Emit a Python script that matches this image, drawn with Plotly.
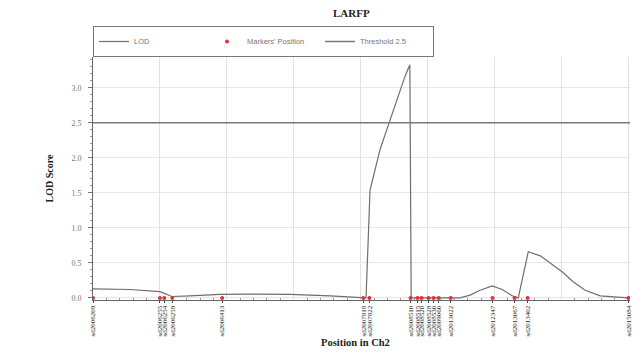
import plotly.graph_objects as go

# LOD curve (position in cM, LOD score)
lod_pos = [0, 11.06, 20.0, 23.6, 29.0, 38.0, 46.9, 58.9, 70.9, 80.7, 81.6,
           82.8, 84.3, 85.8, 88.5, 90.3, 91.8, 93.3, 94.7, 95.1,
           109.7, 112.7, 115.7, 119.3, 122.3, 125.3, 127.1,
           130.1, 133.7, 136.7, 140.3, 143.5, 147.1, 151.6, 160.0]
lod_val = [0.13, 0.12, 0.09, 0.02, 0.03, 0.05, 0.055, 0.05, 0.03, 0.01, 0.0,
           1.54, 1.85, 2.12, 2.5, 2.75, 2.97, 3.17, 3.33, 0.0,
           0.0, 0.04, 0.11, 0.17, 0.12, 0.03, 0.0,
           0.66, 0.60, 0.50, 0.37, 0.23, 0.11, 0.03, 0.0]

# marker positions and names
marker_pos = [0, 20.0, 21.3, 23.7, 38.6, 80.8, 82.6, 94.9, 97.0, 98.2,
              100.3, 101.8, 103.3, 106.9, 119.4, 126.0, 129.9, 160.0]
marker_names = ["sd2006209", "sd2006255", "sd2006254", "sd2006259", "sd2006413",
                "sd2007818", "sd2007822", "sd2008510", "sd2008515", "sd2008520",
                "sd2008528", "sd2008530", "sd2009060", "sd2013022", "sd2012347",
                "sd2013067", "sd2013402", "sd2015084"]
marker_lod = [0.0] * len(marker_pos)

threshold = 2.5
y_ticks = [0.0, 0.5, 1.0, 1.5, 2.0, 2.5, 3.0]

fig = go.Figure()
fig.add_trace(go.Scatter(x=lod_pos, y=lod_val, mode="lines", name="LOD",
                         line=dict(color="#6e6e6e", width=1.2)))
fig.add_trace(go.Scatter(x=marker_pos, y=marker_lod, mode="markers",
                         name="Markers' Position",
                         marker=dict(color="#e0303a", size=4)))
fig.add_trace(go.Scatter(x=[0, 160.5], y=[threshold, threshold], mode="lines",
                         name="Threshold 2.5",
                         line=dict(color="#7a7a7a", width=1.5)))
# invisible trace for overlay axis
fig.add_trace(go.Scatter(x=[0], y=[0], xaxis="x2", mode="markers",
                         marker=dict(opacity=0), showlegend=False, hoverinfo="skip"))

fig.update_layout(
    width=643, height=359,
    margin=dict(l=85, r=21, t=49, b=67, autoexpand=False),
    paper_bgcolor="white", plot_bgcolor="white",
    title=dict(text="<b>LARFP</b>", x=0.534, xanchor="center", y=0.997, yanchor="top",
               font=dict(family="Liberation Serif", size=11, color="#222")),
    showlegend=True,
    legend=dict(orientation="h", x=0.0, xanchor="left", y=1.0, yanchor="bottom",
                bordercolor="#777", borderwidth=1, bgcolor="white",
                font=dict(family="Liberation Sans", size=7.5, color="#777"),
                entrywidth=68, entrywidthmode="pixels",
                itemwidth=30, tracegroupgap=0),
    xaxis=dict(range=[0, 160.5], tickmode="array", tickvals=marker_pos,
               ticktext=marker_names, tickangle=-90,
               tickfont=dict(family="Liberation Serif", size=7, color="#222"),
               ticks="outside", ticklen=2, tickcolor="#444",
               showgrid=False, zeroline=False, showline=True, linecolor="#666",
               linewidth=1, automargin=False),
    xaxis2=dict(range=[0, 160.5], overlaying="x", side="bottom", anchor="y",
                showticklabels=False, showgrid=True, gridcolor="#e2e2e2",
                tick0=0, dtick=20, ticks="", zeroline=False,
                minor=dict(dtick=4, ticks="inside", ticklen=2, tickcolor="#999")),
    yaxis=dict(range=[-0.03, 3.44], tickvals=y_ticks,
               ticktext=["%.1f" % v for v in y_ticks],
               tickfont=dict(family="Liberation Serif", size=8, color="#777"),
               ticks="outside", ticklen=4, tickcolor="#777", ticklabelstandoff=5,
               showgrid=True, gridcolor="#e6e6e6", zeroline=False,
               showline=True, linecolor="#666", automargin=False,
               minor=dict(dtick=0.1, ticks="outside", ticklen=2, tickcolor="#999"),
               title=dict(text="<b>LOD Score</b>", standoff=15,
                          font=dict(family="Liberation Serif", size=10, color="#222"))),
)

fig.add_annotation(text="<b>Position in Ch2</b>", x=0.488, y=-0.173,
                   xref="paper", yref="paper", showarrow=False,
                   xanchor="center", yanchor="middle",
                   font=dict(family="Liberation Serif", size=10.5, color="#222"))

fig.write_html("out.html")
